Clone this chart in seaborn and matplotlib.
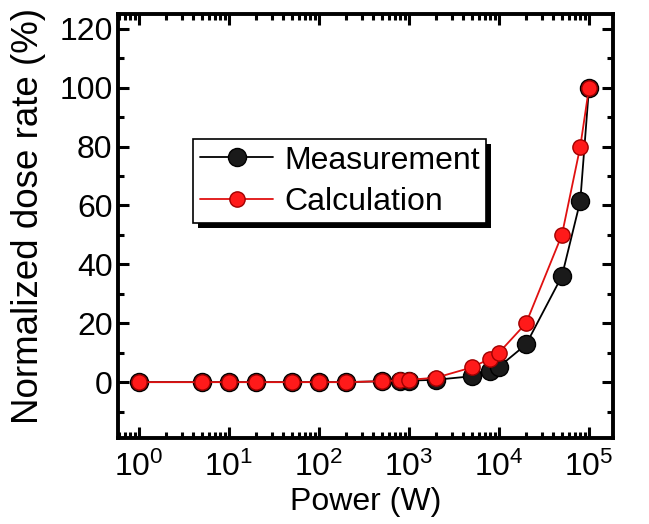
import numpy as np
import pandas as pd
import matplotlib
matplotlib.use('Agg')
import matplotlib.pyplot as plt
from matplotlib.patches import Rectangle
from matplotlib.ticker import MultipleLocator, LogLocator, NullFormatter
import seaborn as sns

# Power levels (W) and normalized dose rates (%)
power = [1, 5, 10, 20, 50, 100, 200, 500, 800, 1000, 2000, 5000, 8000, 10000,
         20000, 50000, 80000, 100000]
measurement = [0, 0, 0, 0, 0, 0, 0, 0.3, 0.4, 0.5, 0.8, 2.0, 3.8, 5.2,
               12.8, 36, 61.5, 100]
calculation = [0, 0, 0, 0, 0, 0, 0, 0.3, 0.6, 0.8, 1.5, 5.0, 8.0, 10.0,
               20.0, 50.0, 80.0, 100]

df = pd.DataFrame({'Power': power, 'Measurement': measurement, 'Calculation': calculation})

sns.set_style('ticks')
plt.rcParams['font.family'] = ['Liberation Sans', 'DejaVu Sans']
plt.rcParams['mathtext.fontset'] = 'custom'
plt.rcParams['mathtext.rm'] = 'Liberation Sans'
plt.rcParams['mathtext.it'] = 'Liberation Sans'
for key in ['text.color', 'axes.labelcolor', 'xtick.color', 'ytick.color', 'axes.edgecolor']:
    plt.rcParams[key] = 'black'

fig = plt.figure(figsize=(6.49, 5.24), dpi=100)
ax = fig.add_axes([0.182, 0.164, 0.763, 0.809])

# Measurement curve
sns.lineplot(data=df, x='Power', y='Measurement', ax=ax, color='black', linewidth=1.3,
             marker='o', markersize=13, markerfacecolor='#1a1a1a', markeredgecolor='black',
             markeredgewidth=1.0, label='Measurement')
# Calculation curve
sns.lineplot(data=df, x='Power', y='Calculation', ax=ax, color='#e01010', linewidth=1.3,
             marker='o', markersize=11, markerfacecolor='#ff1a1a', markeredgecolor='#a00000',
             markeredgewidth=1.0, label='Calculation')

ax.set_xscale('log')
ax.set_xlim(10 ** -0.23, 10 ** 5.27)
ax.set_ylim(-19, 125)
ax.yaxis.set_major_locator(MultipleLocator(20))
ax.yaxis.set_minor_locator(MultipleLocator(10))
ax.xaxis.set_major_locator(LogLocator(base=10, numticks=10))
ax.xaxis.set_minor_locator(LogLocator(base=10, subs=np.arange(2, 10), numticks=20))
ax.xaxis.set_minor_formatter(NullFormatter())

ax.tick_params(which='both', direction='in', top=True, right=True, labelsize=23, width=2.2)
ax.tick_params(which='major', length=8)
ax.tick_params(axis='x', which='major', pad=10)
ax.tick_params(axis='y', which='major', pad=4)
ax.tick_params(which='minor', length=4)
for sp in ax.spines.values():
    sp.set_linewidth(2.8)

ax.set_xlabel('Power (W)', fontsize=23, labelpad=3)
ax.set_ylabel('Normalized dose rate (%)', fontsize=26.5)
ax.yaxis.set_label_coords(-0.145, 0.525)

leg = ax.legend(loc='upper left', bbox_to_anchor=(0.152, 0.705), fontsize=23, frameon=True,
                fancybox=False, shadow=False, edgecolor='black', framealpha=1.0,
                handlelength=2.3, handletextpad=0.35, borderpad=0.2, labelspacing=0.35,
                borderaxespad=0)
leg.get_frame().set_linewidth(1.2)

# solid drop shadow under the legend box
fig.canvas.draw()
bb = leg.get_frame().get_window_extent()
shadow = Rectangle((bb.x0 + 5, bb.y0 - 5), bb.width, bb.height, transform=None,
                   facecolor='black', edgecolor='none', zorder=4.9)
ax.add_artist(shadow)

fig.savefig('out.png', dpi=100)
